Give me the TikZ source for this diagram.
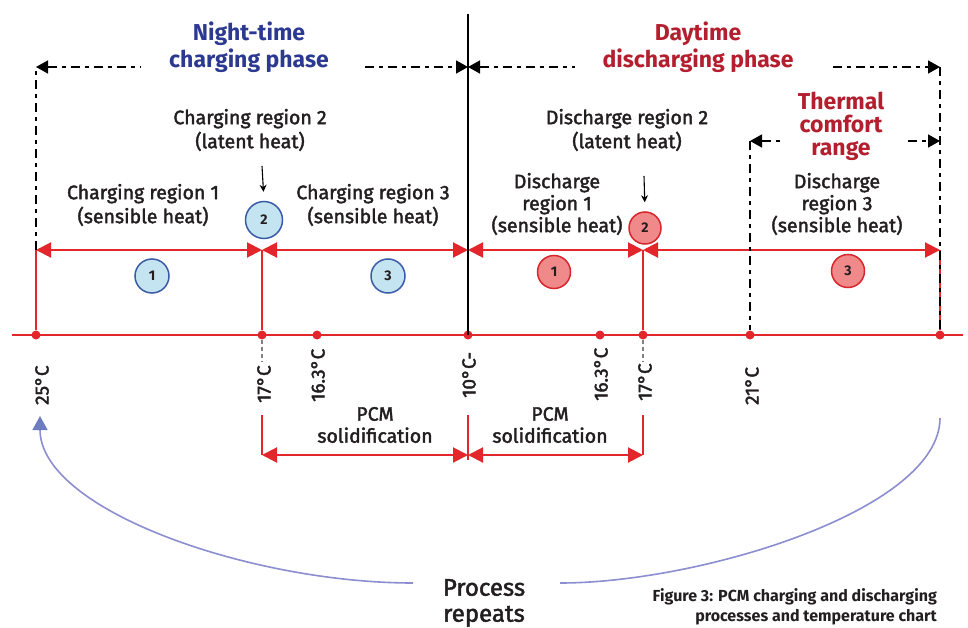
\documentclass[tikz,border=0pt]{standalone}
\usepackage{fontspec}
\setmainfont{Fira Sans}
\newfontfamily\medfont{Fira Sans}[FakeBold=2]
\usetikzlibrary{arrows.meta}
\definecolor{axred}{HTML}{E2262B}
\definecolor{navy}{HTML}{2B3990}
\definecolor{dred}{HTML}{B31F2E}
\definecolor{cblue}{HTML}{C3E4F0}
\definecolor{cbord}{HTML}{3A5CA8}
\definecolor{cred}{HTML}{F08A8A}
\definecolor{cbordr}{HTML}{D8262D}
\definecolor{arcblue}{HTML}{8C8ED0}
\definecolor{tipblue}{HTML}{6E7CC2}
\definecolor{txt}{HTML}{231F20}
\begin{document}
\begin{tikzpicture}[x=1pt,y=-1pt,
  dot/.style={circle,fill=axred,inner sep=0pt,minimum size=9pt},
  redline/.style={axred,line width=2pt},
  rarrow/.style={axred,line width=2pt,{Triangle[length=15pt,width=15pt]}-{Triangle[length=15pt,width=15pt]}},
  bdash/.style={black,line width=1.6pt,dash pattern=on 9pt off 5pt on 4pt off 5pt},
  btipL/.style={{Triangle[length=12pt,width=13pt]}-},
  btipR/.style={-{Triangle[length=12pt,width=13pt]}},
  blackline/.style={black,line width=2.4pt},
  bluec/.style={circle,draw=cbord,line width=1.5pt,fill=cblue,minimum size=34pt,inner sep=0pt,font=\fontsize{14}{14}\selectfont\bfseries,text=txt},
  redc/.style={circle,draw=cbordr,line width=1.5pt,fill=cred,minimum size=33pt,inner sep=0pt,font=\fontsize{14}{14}\selectfont\bfseries,text=txt},
  lbl/.style={align=center,text=txt,font=\medfont\fontsize{19.5}{24}\selectfont},
  lbl3/.style={align=center,text=txt,font=\medfont\fontsize{19.5}{22}\selectfont},
  ttl/.style={align=center,font=\fontsize{23}{27}\selectfont\bfseries},
  temp/.style={rotate=90,anchor=west,text=txt,inner sep=0pt,font=\medfont\fontsize{19}{19}\selectfont},
  downarr/.style={black,line width=1.1pt,-{Stealth[length=7pt,width=7pt]},shorten >=9pt},
  minidash/.style={gray,line width=1.2pt,dash pattern=on 4pt off 3pt}
]
\useasboundingbox[fill=white] (0,0) rectangle (968,628);

% coordinates
\coordinate (axL) at (12,335);
\coordinate (axR) at (963,335);
\coordinate (a25) at (36,250);
\coordinate (a17) at (262,250);
\coordinate (a10) at (468,250);
\coordinate (b17) at (643,250);
\coordinate (b25) at (940,250);
\coordinate (t25) at (36,67);
\coordinate (tL1) at (140,67);
\coordinate (tL2) at (365,67);
\coordinate (t10) at (468,67);
\coordinate (tR1) at (575,67);
\coordinate (tR2) at (833,67);
\coordinate (t25r) at (940,67);
\coordinate (h21) at (750,141);
\coordinate (hL) at (783,141);
\coordinate (hR) at (908,141);
\coordinate (h25) at (940,141);
\coordinate (top) at (468,14);

% axis
\draw[redline] (axL) -- (axR);

% dots
\node[dot] (d25) at (36,335) {};
\node[dot] (d17) at (262,335) {};
\node[dot] (d163) at (317,335) {};
\node[dot] (d10) at (468,335) {};
\node[dot] (e163) at (600,335) {};
\node[dot] (e17) at (643,335) {};
\node[dot] (e21) at (750,335) {};
\node[dot] (e25) at (940,335) {};

% red verticals
\draw[redline] (a25) -- (d25);
\draw[redline] (a17) -- (d17);
\draw[redline] (a10) -- (d10);
\draw[redline] (b17) -- (e17);
\draw[redline] (b25) -- (e25);

% red arrows at region level
\draw[rarrow] (a25) -- (a17);
\draw[rarrow] (a17) -- (a10);
\draw[rarrow] (a10) -- (b17);
\draw[rarrow] (b17) -- (b25);

% black dashed phase markers
\draw[bdash] (a25) -- (t25);
\draw[bdash,btipL] (t25) -- (tL1);
\draw[bdash,btipR] (tL2) -- (t10);
\draw[bdash,btipL] (t10) -- (tR1);
\draw[bdash,btipR] (tR2) -- (t25r);
\draw[bdash] (t25r) -- (e25);
\draw[bdash,btipL] (h21) -- (hL);
\draw[bdash,btipR] (hR) -- (h25);
\draw[bdash] (h21) -- (e21);

% black divider
\draw[blackline] (top) -- (d10.center);

% titles
\node[ttl,text=navy] (night) at (249,47) {Night-time\\charging phase};
\node[ttl,text=dred] (day) at (698,47) {Daytime\\discharging phase};
\node[ttl,text=dred,font=\fontsize{23}{23}\selectfont\bfseries] (comfort) at (841,126) {Thermal\\comfort\\range};

% region labels
\node[lbl] (cr2) at (250,130) {Charging region 2\\(latent heat)};
\node[lbl] (cr1) at (143,205) {Charging region 1\\(sensible heat)};
\node[lbl] (cr3) at (373,205) {Charging region 3\\(sensible heat)};
\node[lbl] (dr2) at (627,130) {Discharge region 2\\(latent heat)};
\node[lbl3] (dr1) at (557,204) {Discharge\\region 1\\(sensible heat)};
\node[lbl3] (dr3) at (837,204) {Discharge\\region 3\\(sensible heat)};

% circles
\node[bluec] (cb1) at (152,276) {1};
\node[bluec,minimum size=37pt] (cb2) at (264,220) {2};
\node[bluec] (cb3) at (388,276) {3};
\node[redc] (cc1) at (554,272) {1};
\node[redc,minimum size=32pt] (cc2) at (645,228) {2};
\node[redc] (cc3) at (848,271) {3};

% small down arrows
\coordinate (da1) at (262,166);
\coordinate (da2) at (644,176);
\draw[downarr] (da1) -- (cb2.north);
\draw[downarr] (da2) -- (cc2.north);

% temperature labels
\node[temp] (l25) at (42,405) {25°C};
\node[temp] (l17) at (264,403) {17°C};
\node[temp] (l163) at (318,402) {16.3°C};
\node[temp] (l10) at (469,398) {10°C-};
\node[temp] (m163) at (601,401) {16.3°C};
\node[temp] (m17) at (645,401) {17°C};
\node[temp] (m21) at (752,405) {21°C};

% little dashes under 17 °C dots
\coordinate (s17) at (262,362);
\coordinate (s17r) at (643,362);
\draw[minidash] (d17.south) -- (s17);
\draw[minidash] (e17.south) -- (s17r);

% PCM solidification
\coordinate (p17) at (262,415);
\coordinate (q17) at (262,455);
\coordinate (p10) at (468,415);
\coordinate (q10) at (468,460);
\coordinate (m10) at (468,455);
\coordinate (p17r) at (643,415);
\coordinate (q17r) at (643,455);
\draw[redline] (p17) -- (q17);
\draw[redline] (p10) -- (q10);
\draw[redline] (p17r) -- (q17r);
\draw[rarrow] (q17) -- (m10);
\draw[rarrow] (m10) -- (q17r);
\node[lbl3] (pcm1) at (375,425) {PCM\\solidification};
\node[lbl3] (pcm2) at (550,425) {PCM\\solidification};

% process repeats arcs
\coordinate (arcLs) at (413,583);
\coordinate (arcLe) at (40,416);
\coordinate (arcRs) at (560,583);
\coordinate (arcRe) at (940,418);
\draw[arcblue,line width=1.6pt,-{Triangle[length=14pt,width=15pt,color=tipblue]}] (arcLs) .. controls (250,583) and (40,510) .. (arcLe);
\draw[arcblue,line width=1.6pt] (arcRs) .. controls (700,583) and (940,510) .. (arcRe);
\node[align=center,text=txt,font=\medfont\fontsize{24}{26}\selectfont] (rep) at (484,603) {Process\\repeats};

% caption
\node[align=right,anchor=north east,text=txt,inner sep=0pt,font=\fontsize{16}{20}\selectfont\bfseries] (cap) at (937,588) {Figure 3: PCM charging and discharging\\processes and temperature chart};
\end{tikzpicture}
\end{document}
